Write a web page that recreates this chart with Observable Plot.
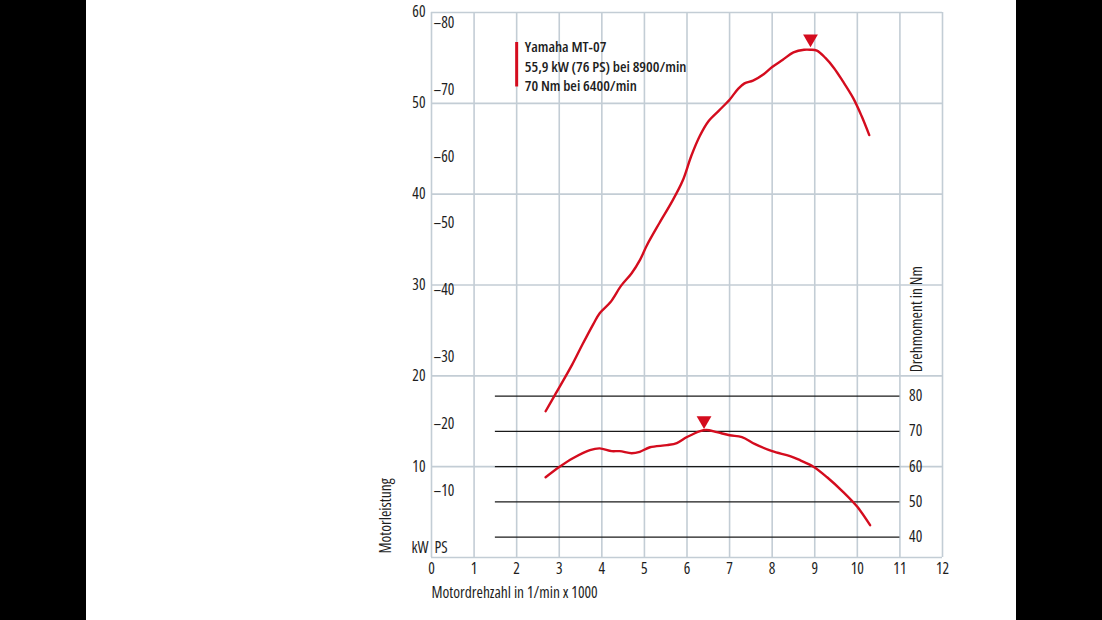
<!DOCTYPE html>
<html>
<head>
<meta charset="utf-8">
<script src="https://cdn.jsdelivr.net/npm/d3@7"></script>
<script src="https://cdn.jsdelivr.net/npm/@observablehq/plot@0.6"></script>
<style>
  html, body { margin: 0; padding: 0; background: #000; }
  #chart svg { display: block; }
  #chart svg text { font-stretch: 75%; }
</style>
</head>
<body>
<div id="chart"></div>
<script>
// ---- data ----
const powerRpm = [2.68, 2.9, 3.3, 3.55, 3.8, 3.95, 4.2, 4.45, 4.7, 4.9, 5.05, 5.35, 5.65, 5.9, 6.1, 6.3, 6.5, 6.75, 7.0, 7.2, 7.35, 7.55, 7.8, 8.0, 8.25, 8.5, 8.75, 8.9, 9.05, 9.25, 9.45, 9.65, 9.9, 10.1, 10.28];
const powerKw  = [16.1, 17.9, 21.2, 23.5, 25.7, 26.9, 28.1, 29.9, 31.3, 32.8, 34.3, 36.8, 39.2, 41.5, 44.2, 46.4, 48.0, 49.2, 50.4, 51.6, 52.2, 52.5, 53.2, 54.0, 54.8, 55.6, 55.9, 55.9, 55.8, 55.0, 53.9, 52.5, 50.6, 48.6, 46.5];
const torqueRpm = [2.68, 3.0, 3.32, 3.72, 3.95, 4.23, 4.42, 4.7, 4.89, 5.13, 5.53, 5.76, 6.0, 6.31, 6.45, 6.7, 7.0, 7.29, 7.6, 8.0, 8.42, 8.66, 8.97, 9.29, 9.67, 10.0, 10.3];
const torqueNm  = [57.0, 59.9, 62.4, 64.7, 65.2, 64.4, 64.4, 63.8, 64.2, 65.5, 66.1, 66.7, 68.4, 70.1, 70.4, 69.8, 68.9, 68.4, 66.4, 64.4, 63.0, 61.8, 60.0, 57.0, 52.8, 48.6, 43.4];
const peakPower = {rpm: 8.9, kw: 55.9};
const peakTorque = {rpm: 6.4, nm: 70};
const xTicks  = [0, 1, 2, 3, 4, 5, 6, 7, 8, 9, 10, 11, 12];
const kwGrid  = [0, 10, 20, 30, 40, 50, 60];
const kwTicks = [10, 20, 30, 40, 50, 60];
const psTicks = [10, 20, 30, 40, 50, 60, 70, 80];
const nmTicks = [40, 50, 60, 70, 80];
const legendLines = ["Yamaha MT-07", "55,9 kW (76 PS) bei 8900/min", "70 Nm bei 6400/min"];

// ---- scale helpers ----
const psToKw = ps => ps * 0.7355;
const nmToKw = nm => 10 + (nm - 60) * 0.3882;

const power = powerRpm.map((r, i) => ({rpm: r, kw: powerKw[i]}));
const torque = torqueRpm.map((r, i) => ({rpm: r, kw: nmToKw(torqueNm[i])}));

const RED = "#d40c1e";
const GRID = "#c3cdd5";
const FONT = "'Open Sans', 'DejaVu Sans Condensed', sans-serif";
const FS = 15.5;

const chart = Plot.plot({
  width: 1102,
  height: 620,
  marginLeft: 431,
  marginRight: 160,
  marginTop: 12,
  marginBottom: 63,
  x: {domain: [0, 12]},
  y: {domain: [0, 60]},
  style: {
    fontFamily: FONT,
    fontSize: FS + "px",
    color: "#1e1e1e",
    background: "linear-gradient(to right, #000 0px, #000 86px, #fff 86px, #fff 1016px, #000 1016px, #000 1102px)"
  },
  marks: [
    Plot.gridX(xTicks, {stroke: GRID, strokeOpacity: 1, strokeWidth: 1.6}),
    Plot.gridY(kwGrid, {stroke: GRID, strokeOpacity: 1, strokeWidth: 1.6}),
    Plot.ruleY(nmTicks, {y: nmToKw, x1: 1.5, x2: 11, stroke: "#1a1a1a", strokeWidth: 1.3}),
    Plot.axisX(xTicks, {tickSize: 0, tickPadding: 5, fontSize: FS, label: null}),
    Plot.text(["Motordrehzahl in 1/min x 1000"], {frameAnchor: "bottom-left", text: d => d, textAnchor: "start", dy: 40, fontSize: FS}),
    Plot.axisY(kwTicks, {tickSize: 0, tickPadding: 6, fontSize: FS, label: null}),
    Plot.text(psTicks, {x: 0, y: psToKw, text: d => "\u2013" + d, textAnchor: "start", dx: 2, fontSize: FS}),
    Plot.text(nmTicks, {x: 11.37, y: nmToKw, text: d => String(d), fontSize: FS}),
    Plot.text(["kW"], {x: 0, y: 1.0, text: d => d, textAnchor: "end", dx: -3, fontSize: FS}),
    Plot.text(["PS"], {x: 0, y: 1.0, text: d => d, textAnchor: "start", dx: 3, fontSize: FS}),
    Plot.text(["Motorleistung"], {frameAnchor: "bottom-left", text: d => d, rotate: -90, textAnchor: "start", dx: -41, dy: -4, fontSize: FS}),
    Plot.text(["Drehmoment in Nm"], {x: 11.4, y: 20.4, text: d => d, rotate: -90, textAnchor: "start", fontSize: FS}),
    Plot.line(power, {x: "rpm", y: "kw", stroke: RED, strokeWidth: 2.4, curve: "catmull-rom"}),
    Plot.line(torque, {x: "rpm", y: "kw", stroke: RED, strokeWidth: 2.4, curve: "catmull-rom"}),
    Plot.dot([peakPower], {x: "rpm", y: "kw", symbol: "triangle", rotate: 180, r: 5.5, fill: RED, dy: -11}),
    Plot.dot([peakTorque], {x: "rpm", y: d => nmToKw(d.nm), symbol: "triangle", rotate: 180, r: 5.5, fill: RED, dy: -11}),
    Plot.ruleX([2], {y1: 51.8, y2: 56.7, stroke: RED, strokeWidth: 3}),
    Plot.text([legendLines.join("\n")], {x: 2.19, y: 54.2, text: d => d, textAnchor: "start", lineAnchor: "middle", lineHeight: 1.32, fontSize: 15, fontWeight: 600})
  ]
});
document.getElementById("chart").append(chart);
</script>
</body>
</html>
